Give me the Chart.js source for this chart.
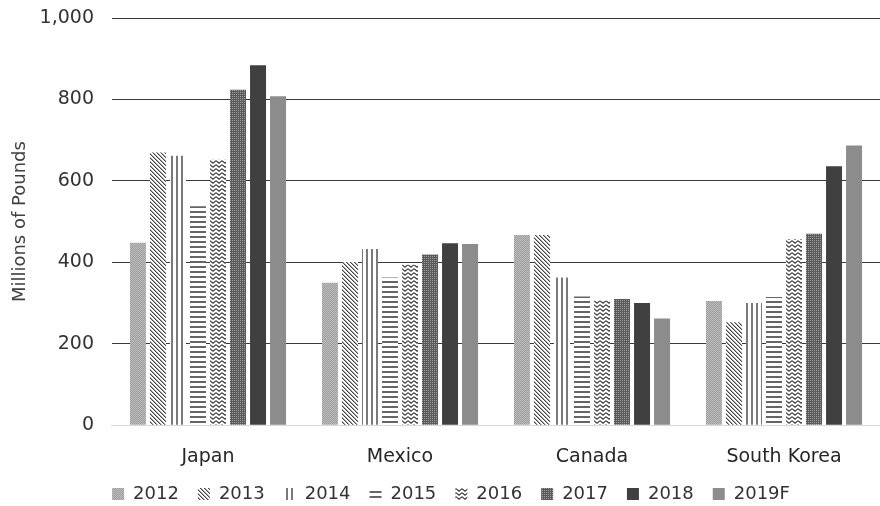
<!DOCTYPE html>
<html>
<head>
<meta charset="utf-8">
<script src="https://cdn.jsdelivr.net/npm/chart.js@4"></script>
<style>
  html, body { margin: 0; padding: 0; background: #fff; }
</style>
</head>
<body>
<canvas id="grafico" width="880" height="506"></canvas>
<script>
// paises y años
const paises = ["Japan", "Mexico", "Canada", "South Korea"];
const anios = ["2012", "2013", "2014", "2015", "2016", "2017", "2018", "2019F"];

// millones de libras
const v2012 = [448, 350, 467, 305];
const v2013 = [670, 401, 467, 253];
const v2014 = [662, 433, 363, 300];
const v2015 = [538, 363, 316, 315];
const v2016 = [652, 394, 306, 457];
const v2017 = [824, 419, 310, 470];
const v2018 = [884, 447, 300, 636];
const v2019 = [808, 445, 262, 687];

const ticksY = [0, 200, 400, 600, 800, 1000];

// tramas
function trama(w, h, dibujar) {
  const c = document.createElement("canvas");
  c.width = w;
  c.height = h;
  const g = c.getContext("2d");
  g.fillStyle = "#fff";
  g.fillRect(0, 0, w, h);
  dibujar(g);
  return g.createPattern(c, "repeat");
}

const tramas = [
  // 2012 gris claro punteado
  trama(2, 2, (g) => {
    g.fillStyle = "#9e9e9e"; g.fillRect(0, 0, 2, 2);
    g.fillStyle = "#bcbcbc"; g.fillRect(0, 0, 1, 1); g.fillRect(1, 1, 1, 1);
  }),
  // 2013 diagonal
  trama(4, 4, (g) => {
    g.fillStyle = "#444";
    for (let i = 0; i < 4; i++) g.fillRect(i, i, 1, 1);
    g.fillStyle = "#aaa";
    for (let i = 0; i < 4; i++) g.fillRect((i + 1) % 4, i, 1, 1);
  }),
  // 2014 verticales
  trama(5, 2, (g) => {
    g.fillStyle = "#7a7a7a"; g.fillRect(1, 0, 2, 2);
  }),
  // 2015 horizontales
  trama(2, 5, (g) => {
    g.fillStyle = "#666"; g.fillRect(0, 1, 2, 2);
  }),
  // 2016 zigzag
  trama(6, 4, (g) => {
    g.strokeStyle = "#444"; g.lineWidth = 1.2;
    g.beginPath(); g.moveTo(0, 0.6); g.lineTo(3, 3.2); g.lineTo(6, 0.6); g.stroke();
  }),
  // 2017 gris oscuro punteado
  trama(2, 2, (g) => {
    g.fillStyle = "#5a5a5a"; g.fillRect(0, 0, 2, 2);
    g.fillStyle = "#a0a0a0"; g.fillRect(0, 0, 1, 1);
  }),
  "#404040",
  "#8c8c8c",
];

const series = [v2012, v2013, v2014, v2015, v2016, v2017, v2018, v2019];

Chart.defaults.font.family = "'DejaVu Sans', sans-serif";
Chart.defaults.color = "#404040";

// acomoda la leyenda como en el original
const moverLeyenda = {
  id: "moverLeyenda",
  afterLayout(chart) {
    const l = chart.legend;
    l.left = 22;
    l.top -= 14;
    l.bottom -= 14;
  },
};

new Chart(document.getElementById("grafico"), {
  type: "bar",
  data: {
    labels: paises,
    datasets: series.map((d, i) => ({
      label: anios[i],
      data: d,
      backgroundColor: tramas[i],
      borderWidth: 0,
      categoryPercentage: 0.834,
      barPercentage: 0.8,
    })),
  },
  options: {
    responsive: false,
    animation: false,
    devicePixelRatio: 1,
    layout: { padding: { top: 18, right: 0, left: 6, bottom: -21 } },
    plugins: {
      legend: {
        position: "bottom",
        labels: {
          boxWidth: 12,
          boxHeight: 12,
          padding: 19,
          color: "#333",
          font: { size: 18 },
        },
      },
      tooltip: { enabled: false },
    },
    scales: {
      x: {
        grid: { display: false },
        border: { color: "#d9d9d9", width: 1 },
        ticks: { color: "#262626", font: { size: 19 }, padding: 12, maxRotation: 0 },
      },
      y: {
        min: 0,
        max: 1000,
        afterBuildTicks: (eje) => {
          eje.ticks = ticksY.map((v) => ({ value: v }));
        },
        grid: {
          color: (ctx) => (ctx.tick && ctx.tick.value === 0 ? "#d9d9d9" : "#3a3a3a"),
          drawTicks: true,
          tickLength: 18,
          tickColor: "rgba(0,0,0,0)",
          lineWidth: 1,
        },
        border: { display: false },
        ticks: {
          padding: 0,
          color: "#333",
          font: { size: 19 },
          callback: (v) => v.toLocaleString("en-US"),
        },
        title: {
          display: true,
          text: "Millions of Pounds",
          color: "#404040",
          font: { size: 18 },
          padding: { top: 4, bottom: 8 },
        },
      },
    },
  },
  plugins: [moverLeyenda],
});
</script>
</body>
</html>
